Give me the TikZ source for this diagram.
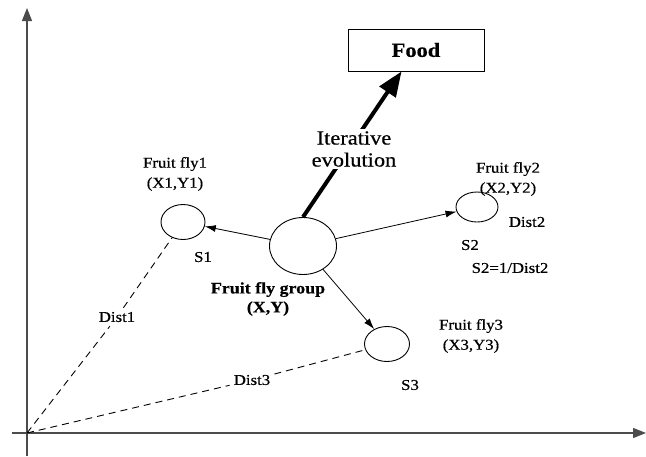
\documentclass[tikz,border=0pt]{standalone}
\usepackage{fontspec}
\setmainfont{Liberation Serif}[FakeStretch=1.12,FakeBold=0.5]
\usetikzlibrary{arrows.meta,shapes.geometric}
\tikzset{
  fly/.style={draw,ellipse,line width=0.9pt,inner sep=0pt},
  lbl/.style={inner sep=0pt,align=center,font=\fontsize{15}{20}\selectfont},
  big/.style={inner sep=2pt,fill=white,align=center,font=\fontsize{20}{22}\selectfont},
  axis/.style={line width=1.3pt,draw=black!70,-{Triangle[length=13pt,width=10pt]}},
  thin/.style={line width=0.8pt,-{Latex[length=11pt,width=7pt]}},
  dist/.style={line width=0.9pt,dash pattern=on 7pt off 5pt}
}
\begin{document}
\begin{tikzpicture}[x=1pt,y=-1pt]
\useasboundingbox (0,0) rectangle (646,456);
\coordinate (o) at (27,433);
\coordinate (yb) at (27,456);
\coordinate (yt) at (27,8);
\coordinate (xl) at (12,433);
\coordinate (xr) at (646,433);
\draw[axis] (yb) -- (yt);
\draw[axis] (xl) -- (xr);

\node[draw,line width=0.8pt,minimum width=136pt,minimum height=42pt,font=\fontsize{20}{22}\selectfont\bfseries] (food) at (416,50) {Food};

\node[fly,minimum width=67pt,minimum height=57pt] (g) at (303,246) {};
\node[fly,minimum width=44pt,minimum height=35pt] (f1) at (183,222) {};
\node[fly,minimum width=42pt,minimum height=30pt] (f2) at (477,207) {};
\node[fly,minimum width=45pt,minimum height=35pt] (f3) at (387,344) {};

\draw[line width=4pt,-{Triangle[length=25pt,width=19pt]}] (g.north) -- (food);
\draw[thin] (g) -- (f1);
\draw[thin] (g) -- (f2);
\draw[thin] (g) -- (f3);

\node[lbl,inner sep=4pt] (d1) at (117,317) {Dist1};
\node[lbl,inner sep=4pt] (d3) at (252,380) {Dist3};
\draw[dist] (o) -- (d1) -- (f1);
\draw[dist] (o) -- (d3) -- (f3);

\node[big] (it) at (354,149) {Iterative\\evolution};
\node[lbl] (t1) at (175,174) {Fruit fly1\\(X1,Y1)};
\node[lbl] (s1) at (203,257) {S1};
\node[lbl] (t2) at (508,179) {Fruit fly2\\(X2,Y2)};
\node[lbl] (d2) at (527,222) {Dist2};
\node[lbl] (s2) at (470,245) {S2};
\node[lbl] (e2) at (510,268) {S2=1/Dist2};
\node[lbl,font=\fontsize{16}{19}\selectfont\bfseries] (tg) at (268,299) {Fruit fly group\\(X,Y)};
\node[lbl] (t3) at (471,336) {Fruit fly3\\(X3,Y3)};
\node[lbl] (s3) at (410,385) {S3};
\end{tikzpicture}
\end{document}
